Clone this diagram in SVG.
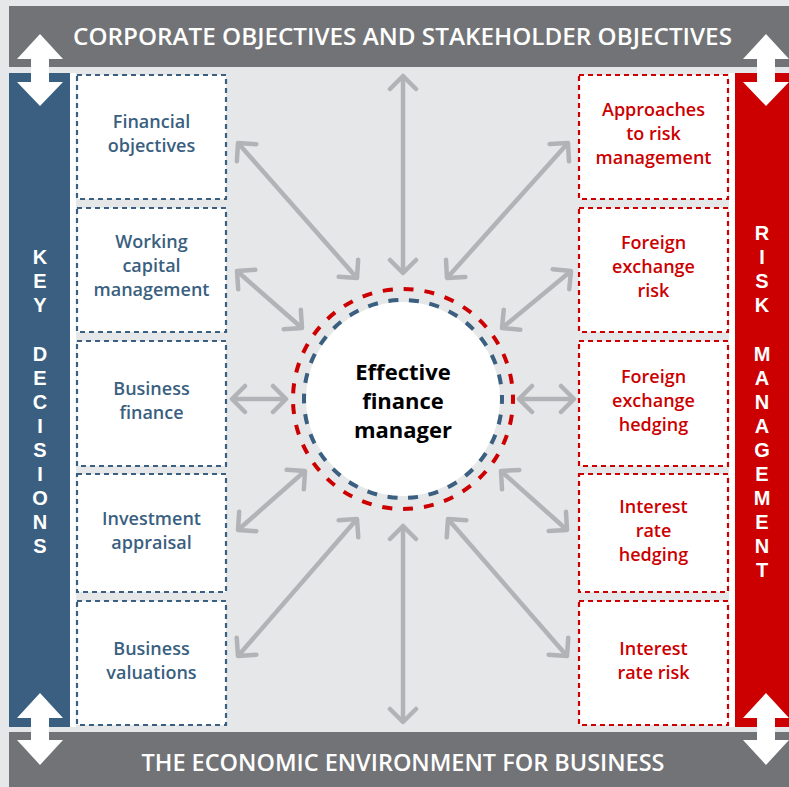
<svg xmlns="http://www.w3.org/2000/svg" width="789" height="787" viewBox="0 0 789 787">
<style>
.bar{fill:#727376}
.bt{font-family:"Open Sans","Liberation Sans",sans-serif;font-weight:600;font-size:23px;fill:#ffffff;text-anchor:middle}
.vt{font-family:"Liberation Sans",Arial,sans-serif;font-weight:700;font-size:20px;fill:#ffffff;text-anchor:middle}
.lb{fill:#ffffff;stroke:#3a5f80;stroke-width:2.2;stroke-dasharray:5 4}
.rb{fill:#ffffff;stroke:#cc0000;stroke-width:2.2;stroke-dasharray:5 4}
.lt{font-family:"Open Sans","Liberation Sans",sans-serif;font-weight:600;font-size:18px;fill:#3a5f80;text-anchor:middle}
.rt{font-family:"Open Sans","Liberation Sans",sans-serif;font-weight:600;font-size:18px;fill:#cc0000;text-anchor:middle}
.ct{font-family:"Open Sans","Liberation Sans",sans-serif;font-weight:700;font-size:22px;fill:#000000;text-anchor:middle}
.ar{stroke:#b1b3b6;stroke-width:4.5;fill:none;marker-start:url(#hd);marker-end:url(#hd)}
.wa{fill:#ffffff}
</style>
<defs>
<marker id="hd" viewBox="-16 -16 32 32" markerWidth="32" markerHeight="32" refX="0" refY="0" markerUnits="userSpaceOnUse" orient="auto-start-reverse">
<path d="M -13 -13 L 0 0 L -13 13" fill="none" stroke="#b1b3b6" stroke-width="4.5" stroke-linecap="round" stroke-linejoin="round"/>
</marker>
</defs>
<rect x="0" y="0" width="789" height="787" fill="#e6e7e8"/>
<g id="top-bar">
<rect class="bar" x="9" y="6" width="780" height="61"/>
<text class="bt" x="402.5" y="45" textLength="659" lengthAdjust="spacingAndGlyphs">CORPORATE OBJECTIVES AND STAKEHOLDER OBJECTIVES</text>
</g>
<g id="bottom-bar">
<rect class="bar" x="9" y="732" width="780" height="55"/>
<text class="bt" x="403" y="771" textLength="523" lengthAdjust="spacingAndGlyphs">THE ECONOMIC ENVIRONMENT FOR BUSINESS</text>
</g>
<g id="key-decisions">
<rect x="9" y="73" width="61" height="654" fill="#3a5f80"/>
<text class="vt"><tspan x="40" y="264">K</tspan><tspan x="40" y="288">E</tspan><tspan x="40" y="312">Y</tspan><tspan x="40" y="361">D</tspan><tspan x="40" y="385">E</tspan><tspan x="40" y="409">C</tspan><tspan x="40" y="433">I</tspan><tspan x="40" y="457">S</tspan><tspan x="40" y="481">I</tspan><tspan x="40" y="505">O</tspan><tspan x="40" y="529">N</tspan><tspan x="40" y="553">S</tspan></text>
</g>
<g id="risk-management">
<rect x="735" y="73" width="54" height="654" fill="#cc0000"/>
<text class="vt"><tspan x="762" y="240">R</tspan><tspan x="762" y="264">I</tspan><tspan x="762" y="288">S</tspan><tspan x="762" y="312">K</tspan><tspan x="762" y="361">M</tspan><tspan x="762" y="385">A</tspan><tspan x="762" y="409">N</tspan><tspan x="762" y="433">A</tspan><tspan x="762" y="457">G</tspan><tspan x="762" y="481">E</tspan><tspan x="762" y="505">M</tspan><tspan x="762" y="529">E</tspan><tspan x="762" y="553">N</tspan><tspan x="762" y="577">T</tspan></text>
</g>
<g id="columns">
<rect x="70" y="73" width="6" height="654" fill="#ffffff"/>
<rect x="729" y="73" width="6" height="654" fill="#ffffff"/>
</g>
<g id="double-arrows">
<polygon class="wa" points="40,34 63,59 49,59 49,82 63,82 40,106 17,82 31,82 31,59 17,59"/>
<polygon class="wa" points="766,34 789,59 775,59 775,82 789,82 766,106 743,82 757,82 757,59 743,59"/>
<polygon class="wa" points="40,693 63,718 49,718 49,740 63,740 40,765 17,740 31,740 31,718 17,718"/>
<polygon class="wa" points="766,693 789,718 775,718 775,740 789,740 766,765 743,740 757,740 757,718 743,718"/>
</g>
<g id="financial-objectives"><rect class="lb" x="77" y="75" width="149" height="124"/><text class="lt"><tspan x="151.5" y="128">Financial</tspan><tspan x="151.5" y="152">objectives</tspan></text></g>
<g id="working-capital"><rect class="lb" x="77" y="208" width="149" height="124"/><text class="lt"><tspan x="151.5" y="248">Working</tspan><tspan x="151.5" y="272">capital</tspan><tspan x="151.5" y="296">management</tspan></text></g>
<g id="business-finance"><rect class="lb" x="77" y="341" width="149" height="125"/><text class="lt"><tspan x="151.5" y="395">Business</tspan><tspan x="151.5" y="419">finance</tspan></text></g>
<g id="investment-appraisal"><rect class="lb" x="77" y="474" width="149" height="118"/><text class="lt"><tspan x="151.5" y="525">Investment</tspan><tspan x="151.5" y="549">appraisal</tspan></text></g>
<g id="business-valuations"><rect class="lb" x="77" y="601" width="149" height="124"/><text class="lt"><tspan x="151.5" y="655">Business</tspan><tspan x="151.5" y="679">valuations</tspan></text></g>
<g id="approaches-risk"><rect class="rb" x="579" y="75" width="149" height="124"/><text class="rt"><tspan x="653.5" y="116">Approaches</tspan><tspan x="653.5" y="140">to risk</tspan><tspan x="653.5" y="164">management</tspan></text></g>
<g id="fx-risk"><rect class="rb" x="579" y="208" width="149" height="124"/><text class="rt"><tspan x="653.5" y="249">Foreign</tspan><tspan x="653.5" y="273">exchange</tspan><tspan x="653.5" y="297">risk</tspan></text></g>
<g id="fx-hedging"><rect class="rb" x="579" y="341" width="149" height="125"/><text class="rt"><tspan x="653.5" y="383">Foreign</tspan><tspan x="653.5" y="407">exchange</tspan><tspan x="653.5" y="431">hedging</tspan></text></g>
<g id="ir-hedging"><rect class="rb" x="579" y="474" width="149" height="118"/><text class="rt"><tspan x="653.5" y="513">Interest</tspan><tspan x="653.5" y="537">rate</tspan><tspan x="653.5" y="561">hedging</tspan></text></g>
<g id="ir-risk"><rect class="rb" x="579" y="601" width="149" height="124"/><text class="rt"><tspan x="653.5" y="655">Interest</tspan><tspan x="653.5" y="679">rate risk</tspan></text></g>
<g id="connectors">
<line class="ar" x1="403" y1="76" x2="403" y2="273"/>
<line class="ar" x1="403" y1="526" x2="403" y2="722"/>
<line class="ar" x1="232" y1="399" x2="286" y2="399"/>
<line class="ar" x1="519" y1="399" x2="574" y2="399"/>
<line class="ar" x1="238" y1="143" x2="357" y2="278"/>
<line class="ar" x1="568" y1="143" x2="447" y2="278"/>
<line class="ar" x1="237" y1="271" x2="302" y2="328"/>
<line class="ar" x1="571" y1="271" x2="502" y2="328"/>
<line class="ar" x1="238" y1="530" x2="305" y2="471"/>
<line class="ar" x1="567" y1="530" x2="501" y2="471"/>
<line class="ar" x1="238" y1="656" x2="357" y2="519"/>
<line class="ar" x1="567" y1="656" x2="448" y2="519"/>
</g>
<g id="effective-finance-manager">
<circle cx="403" cy="399" r="97" fill="#ffffff"/>
<circle cx="403" cy="399" r="99" fill="none" stroke="#3a5f80" stroke-width="4" stroke-dasharray="10 10.73" stroke-dashoffset="5"/>
<circle cx="403" cy="399" r="110" fill="none" stroke="#cc0000" stroke-width="4" stroke-dasharray="10 10.94" stroke-dashoffset="5"/>
<text class="ct"><tspan x="403" y="380">Effective</tspan><tspan x="403" y="409">finance</tspan><tspan x="403" y="438">manager</tspan></text>
</g>
</svg>
